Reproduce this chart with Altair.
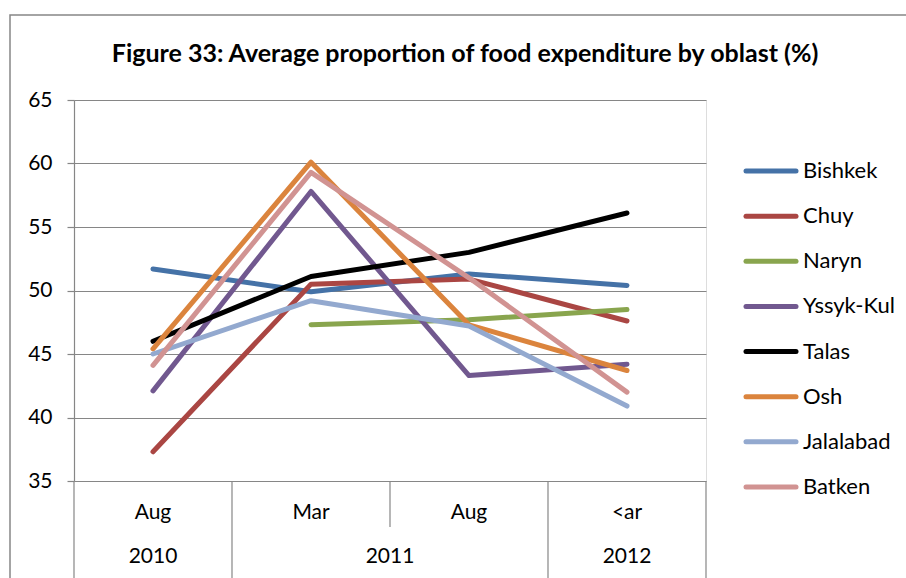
import altair as alt
import pandas as pd

# ---- data ----
periods = [0, 1, 2, 3]
month_labels = ["Aug", "Mar", "Aug", "<ar"]
year_labels = ["2010", "2011", "2012"]
year_pos = [0, 1.5, 3]
divider_full = [-0.5, 0.5, 2.5, 3.5]
divider_short = [1.5]
title_text = ["Figure 33: Average proportion of food expenditure by oblast (%)"]

series_names = ["Bishkek", "Chuy", "Naryn", "Yssyk-Kul", "Talas", "Osh", "Jalalabad", "Batken"]
bishkek = [51.7, 49.9, 51.3, 50.4]
chuy = [37.3, 50.5, 50.9, 47.6]
naryn = [None, 47.3, 47.7, 48.5]
yssyk_kul = [42.1, 57.8, 43.3, 44.2]
talas = [46.0, 51.1, 53.0, 56.1]
osh = [45.4, 60.1, 47.3, 43.7]
jalalabad = [45.0, 49.2, 47.2, 40.9]
batken = [44.1, 59.3, 51.0, 42.0]
series_values = [bishkek, chuy, naryn, yssyk_kul, talas, osh, jalalabad, batken]
colors = ["#4572A7", "#AA4643", "#89A54E", "#71588F", "#000000", "#DB843D", "#93A9CF", "#D19392"]
y_ticks = [35, 40, 45, 50, 55, 60, 65]

FONT = "Lato"
GRAY = "#868686"
FS = 21

rows = []
for name, vals in zip(series_names, series_values):
    for p, v in zip(periods, vals):
        if v is not None:
            rows.append({"oblast": name, "period": p, "value": v})
df = pd.DataFrame(rows)

df_months = pd.DataFrame({"period": periods, "label": month_labels})
df_years = pd.DataFrame({"period": year_pos, "label": year_labels})
df_div_full = pd.DataFrame({"pos": divider_full})
df_div_short = pd.DataFrame({"pos": divider_short})
df_leg = pd.DataFrame({"oblast": series_names, "rank": list(range(len(series_names)))})
df_title = pd.DataFrame({"t": title_text})

xs = alt.Scale(domain=[-0.5, 3.5], nice=False, zero=False)
ys = alt.Scale(domain=[35, 65], nice=False, zero=False)
cs = alt.Scale(domain=series_names, range=colors)
legend_y = alt.Scale(domain=[0, 7], range=[71, 387])

border = alt.Chart(pd.DataFrame({"a": [0]})).mark_rect(
    filled=False, stroke=GRAY, strokeWidth=1.5
).encode(x=alt.value(-64), x2=alt.value(845), y=alt.value(-85), y2=alt.value(495))

title = alt.Chart(df_title).mark_text(
    font=FONT, fontSize=25, fontWeight="bold", color="#000000", align="center",
    baseline="alphabetic"
).encode(x=alt.value(391), y=alt.value(-38), text="t:N")

lines = alt.Chart(df).mark_line(strokeWidth=5, strokeCap="round", strokeJoin="round").encode(
    x=alt.X("period:Q", scale=xs, axis=None),
    y=alt.Y("value:Q", scale=ys, title=None,
            axis=alt.Axis(values=y_ticks, grid=True, gridColor=GRAY, gridWidth=1.2,
                          domainColor=GRAY, domainWidth=1.2, tickColor=GRAY, tickSize=7,
                          tickWidth=1.2, labelFont=FONT, labelFontSize=FS, labelColor="#000000",
                          labelPadding=15)),
    color=alt.Color("oblast:N", scale=cs, legend=None),
    order=alt.Order("period:Q"),
)

months = alt.Chart(df_months).mark_text(font=FONT, fontSize=FS, color="#000000", baseline="middle").encode(
    x=alt.X("period:Q", scale=xs), y=alt.value(413), text="label:N")
years = alt.Chart(df_years).mark_text(font=FONT, fontSize=FS, color="#000000", baseline="middle").encode(
    x=alt.X("period:Q", scale=xs), y=alt.value(457), text="label:N")
div_full = alt.Chart(df_div_full).mark_rule(color=GRAY, strokeWidth=1.2).encode(
    x=alt.X("pos:Q", scale=xs), y=alt.value(381), y2=alt.value(495))
div_short = alt.Chart(df_div_short).mark_rule(color=GRAY, strokeWidth=1.2).encode(
    x=alt.X("pos:Q", scale=xs), y=alt.value(381), y2=alt.value(427))

leg_lines = alt.Chart(df_leg).mark_rule(strokeWidth=5, strokeCap="round").encode(
    x=alt.value(672), x2=alt.value(722),
    y=alt.Y("rank:Q", scale=legend_y, axis=None),
    color=alt.Color("oblast:N", scale=cs, legend=None))
leg_text = alt.Chart(df_leg).mark_text(font=FONT, fontSize=22, align="left", baseline="middle",
                                       color="#000000").encode(
    x=alt.value(729),
    y=alt.Y("rank:Q", scale=legend_y, axis=None),
    text="oblast:N")

chart = alt.layer(border, title, lines, months, years, div_full, div_short, leg_lines, leg_text).resolve_scale(
    y="independent"
).properties(
    width=632, height=381,
    autosize=alt.AutoSizeParams(type="none"),
    padding={"left": 74, "top": 100, "right": 200, "bottom": 97},
).configure_view(stroke=None).configure(background="white")

chart.save("out.html", embed_options={"renderer": "svg", "actions": False})
